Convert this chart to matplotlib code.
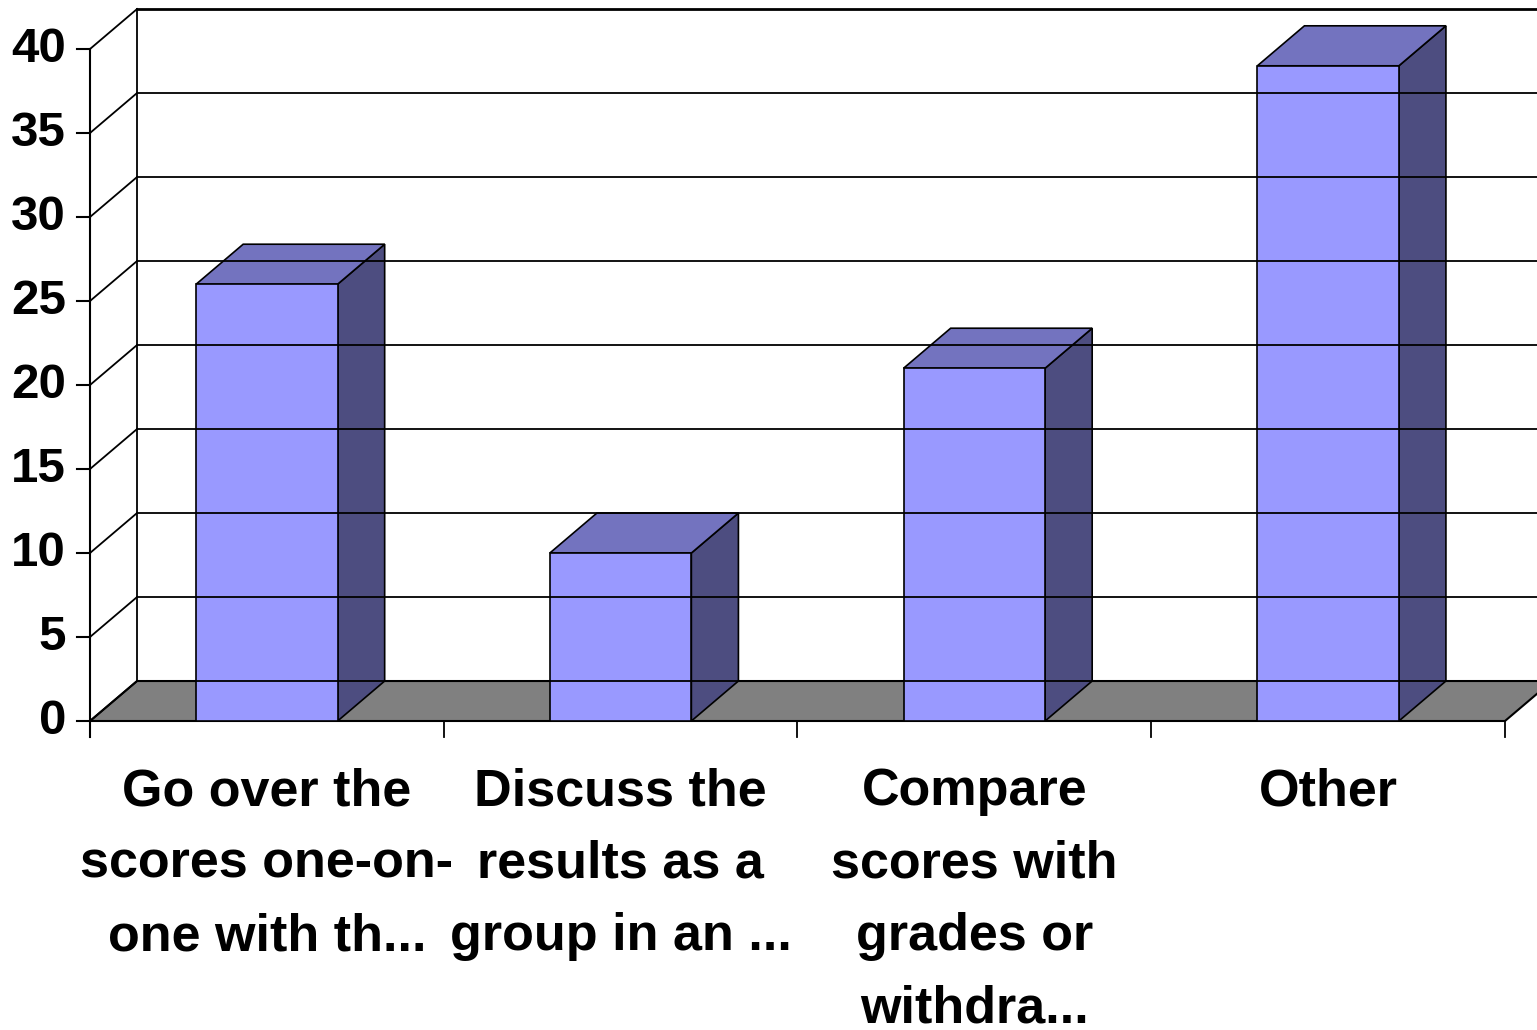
import matplotlib.pyplot as plt
from matplotlib.patches import Polygon, Rectangle

# data
categories = ["Go over the\nscores one-on-\none with th...",
              "Discuss the\nresults as a\ngroup in an ...",
              "Compare\nscores with\ngrades or\nwithdra...",
              "Other"]
values = [26, 10, 21, 39]
y_ticks = [0, 5, 10, 15, 20, 25, 30, 35, 40]

# colours of the 3-D column faces
front_col = "#9999FF"
top_col = "#7373BF"
side_col = "#4D4D80"
floor_col = "#808080"

n = len(categories)
dx, dy = 0.133, 2.38      # depth offset of the 3-D box
bw = 0.4                  # column width (category units)

fig = plt.figure(figsize=(15.37, 10.3), dpi=100)
ax = fig.add_axes([0, 0, 1, 1])
ax.set_xlim(-90 / 353.75, (1537 - 90) / 353.75)
ax.set_ylim(-309 / 16.8, (1030 - 309) / 16.8)
ax.axis("off")

ymax = y_ticks[-1]

# back wall gridlines and left-wall diagonals
ax.plot([dx, dx], [dy, ymax + dy], color="black", lw=1.3)
for t in y_ticks:
    ax.plot([dx, n + dx + 0.2], [t + dy, t + dy], color="black",
            lw=2 if t == ymax else 1.3)
    ax.plot([0, dx], [t, t + dy], color="black", lw=1.3)
    ax.plot([-0.037, 0], [t, t], color="black", lw=1.5)
    ax.text(-0.068, t, str(t), ha="right", va="center", fontsize=35.5,
            fontweight="bold", family="Liberation Sans")

# floor
ax.add_patch(Polygon([(0, 0), (dx, dy), (n + dx, dy), (n, 0)],
                     closed=True, facecolor=floor_col, edgecolor="black", lw=1.5))
ax.plot([0, 0], [-0.95, ymax], color="black", lw=1.5)
for i in range(n + 1):
    ax.plot([i, i], [-0.95, 0], color="black", lw=1.3)

# columns
for i, v in enumerate(values):
    x0 = i + 0.5 - bw / 2
    x1 = i + 0.5 + bw / 2
    ax.add_patch(Polygon([(x1, 0), (x1 + dx, dy), (x1 + dx, v + dy), (x1, v)],
                         closed=True, facecolor=side_col, edgecolor="black", lw=1.2))
    ax.add_patch(Polygon([(x0, v), (x0 + dx, v + dy), (x1 + dx, v + dy), (x1, v)],
                         closed=True, facecolor=top_col, edgecolor="black", lw=1.2))
    ax.add_patch(Rectangle((x0, 0), bw, v, facecolor=front_col,
                           edgecolor="black", lw=1.2))

# category labels
for i, lab in enumerate(categories):
    ax.text(i + 0.5, -2.75, lab, ha="center", va="top", fontsize=37.5,
            fontweight="bold", family="Liberation Sans", linespacing=1.62)

fig.savefig("out.png", dpi=100)
